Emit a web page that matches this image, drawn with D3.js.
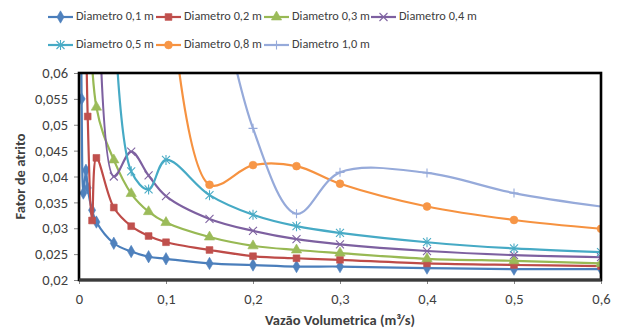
<!DOCTYPE html>
<html>
<head>
<meta charset="utf-8">
<script src="https://cdn.jsdelivr.net/npm/d3@7/dist/d3.min.js"></script>
<style>
  body { margin: 0; background: #fff; }
  svg text { font-family: Carlito, "Liberation Sans Narrow", "Liberation Sans", Arial, sans-serif; fill: #404040; }
</style>
</head>
<body>
<svg id="chart" width="619" height="331"></svg>
<script>
// values (vazao in m3/s, fator de atrito)
const seriesNames = ["Diametro 0,1 m", "Diametro 0,2 m", "Diametro 0,3 m", "Diametro 0,4 m",
  "Diametro 0,5 m", "Diametro 0,8 m", "Diametro 1,0 m"];

const vazaoD01 = [0.002, 0.003, 0.005, 0.008, 0.01, 0.015, 0.02, 0.04, 0.06, 0.08, 0.1, 0.15, 0.2, 0.25, 0.3, 0.4, 0.5, 0.6];
const fatorD01 = [0.080, 0.0550, 0.0368, 0.0412, 0.0378, 0.0335, 0.0312, 0.0271, 0.0255, 0.0245, 0.0241, 0.0232, 0.0229, 0.0226, 0.0226, 0.0223, 0.0221, 0.0221];

const vazaoD02 = [0.005, 0.01, 0.015, 0.02, 0.04, 0.06, 0.08, 0.1, 0.15, 0.2, 0.25, 0.3, 0.4, 0.5, 0.6];
const fatorD02 = [0.12, 0.0516, 0.0315, 0.0436, 0.0340, 0.0304, 0.0285, 0.0273, 0.0258, 0.0246, 0.0242, 0.0239, 0.0232, 0.0229, 0.0227];

const vazaoD03 = [0.01, 0.02, 0.04, 0.06, 0.08, 0.1, 0.15, 0.2, 0.25, 0.3, 0.4, 0.5, 0.6];
const fatorD03 = [0.095, 0.0534, 0.0432, 0.0367, 0.0332, 0.0311, 0.0283, 0.0266, 0.0258, 0.0252, 0.0241, 0.0237, 0.0232];

const vazaoD04 = [0.02, 0.04, 0.06, 0.08, 0.1, 0.15, 0.2, 0.25, 0.3, 0.4, 0.5, 0.6];
const fatorD04 = [0.11, 0.0400, 0.0448, 0.0402, 0.0362, 0.0318, 0.0295, 0.0279, 0.0269, 0.0256, 0.0248, 0.0244];

const vazaoD05 = [0.04, 0.06, 0.08, 0.1, 0.15, 0.2, 0.25, 0.3, 0.4, 0.5, 0.6];
const fatorD05 = [0.075, 0.0410, 0.0375, 0.0432, 0.0364, 0.0326, 0.0304, 0.0291, 0.0273, 0.0261, 0.0254];

const vazaoD08 = [0.1, 0.15, 0.2, 0.25, 0.3, 0.4, 0.5, 0.6];
const fatorD08 = [0.085, 0.0384, 0.0422, 0.0420, 0.0386, 0.0342, 0.0316, 0.0299];

const vazaoD10 = [0.15, 0.2, 0.25, 0.3, 0.4, 0.5, 0.6];
const fatorD10 = [0.085, 0.0493, 0.0328, 0.0408, 0.0407, 0.0368, 0.0342];

const xTicks = [0, 0.1, 0.2, 0.3, 0.4, 0.5, 0.6];
const xTickLabels = ["0", "0,1", "0,2", "0,3", "0,4", "0,5", "0,6"];
const yTicks = [0.02, 0.025, 0.03, 0.035, 0.04, 0.045, 0.05, 0.055, 0.06];
const yTickLabels = ["0,02", "0,025", "0,03", "0,035", "0,04", "0,045", "0,05", "0,055", "0,06"];

const lineColors = ["#4A7EBB", "#BE4B48", "#98B954", "#7D60A0", "#46AAC5", "#F69240", "#96AADA"];
const markColors = ["#4F81BD", "#C0504D", "#9BBB59", "#8064A2", "#4BACC6", "#F79646", "#96AADA"];
const markTypes = ["diamond", "square", "triangle", "x", "star", "circle", "plus"];

const allX = [vazaoD01, vazaoD02, vazaoD03, vazaoD04, vazaoD05, vazaoD08, vazaoD10];
const allY = [fatorD01, fatorD02, fatorD03, fatorD04, fatorD05, fatorD08, fatorD10];
const series = seriesNames.map((name, i) => ({
  name: name,
  color: lineColors[i],
  mcolor: markColors[i],
  mark: markTypes[i],
  points: allX[i].map((v, j) => ({ x: v, y: allY[i][j] }))
}));

const svg = d3.select("#chart");
const margin = { top: 73, right: 18, bottom: 51, left: 79 };
const width = 619 - margin.left - margin.right;
const height = 331 - margin.top - margin.bottom;
const fs = "14.5px";

const x = d3.scaleLinear().domain([0, 0.6]).range([margin.left, margin.left + width]);
const y = d3.scaleLinear().domain([0.02, 0.06]).range([margin.top + height, margin.top]);

svg.append("defs").append("clipPath").attr("id", "plotclip")
  .append("rect")
  .attr("x", margin.left).attr("y", margin.top)
  .attr("width", width).attr("height", height);

// axes
const yAxis = svg.append("g")
  .attr("transform", "translate(" + margin.left + ",0)")
  .call(d3.axisLeft(y).tickValues(yTicks).tickFormat((d, i) => yTickLabels[i]).tickSize(5).tickPadding(6));
const xAxis = svg.append("g")
  .attr("transform", "translate(0," + (margin.top + height) + ")")
  .call(d3.axisBottom(x).tickValues(xTicks).tickFormat((d, i) => xTickLabels[i]).tickSize(4).tickPadding(10));
[yAxis, xAxis].forEach(g => {
  g.select(".domain").remove();
  g.selectAll("line").attr("stroke", "#868686");
  g.selectAll("text").style("font-size", fs).attr("fill", "#404040");
});

// marker shapes
function markerPath(type) {
  if (type === "diamond") return d3.symbol(d3.symbolDiamond, 44)();
  if (type === "square") return d3.symbol(d3.symbolSquare, 46)();
  if (type === "triangle") return d3.symbol(d3.symbolTriangle, 46)();
  if (type === "circle") return d3.symbol(d3.symbolCircle, 48)();
  const r = 4;
  if (type === "x") return `M${-r},${-r}L${r},${r}M${-r},${r}L${r},${-r}`;
  if (type === "plus") return `M${-r - 0.5},0L${r + 0.5},0M0,${-r - 0.5}L0,${r + 0.5}`;
  // star: x with vertical bar
  return `M${-r},${-r}L${r},${r}M${-r},${r}L${r},${-r}M0,${-r - 1}L0,${r + 1}`;
}
function styleMarker(sel, s) {
  if (["x", "plus", "star"].includes(s.mark)) {
    sel.attr("fill", "none").attr("stroke", s.mcolor).attr("stroke-width", 1.1);
  } else {
    sel.attr("fill", s.mcolor).attr("stroke", s.mcolor).attr("stroke-width", 0.6);
  }
}

const line = d3.line()
  .x(d => x(d.x))
  .y(d => y(d.y))
  .curve(d3.curveCatmullRom.alpha(0.5));

const plot = svg.append("g").attr("clip-path", "url(#plotclip)");
series.forEach(s => {
  const g = plot.append("g");
  g.append("path")
    .datum(s.points)
    .attr("fill", "none")
    .attr("stroke", s.color)
    .attr("stroke-width", 2.2)
    .attr("stroke-linejoin", "round")
    .attr("d", line);
  g.selectAll("path.mk")
    .data(s.points)
    .join("path")
    .attr("class", "mk")
    .attr("transform", d => "translate(" + x(d.x) + "," + y(d.y) + ")")
    .attr("d", markerPath(s.mark))
    .call(styleMarker, s);
});

// plot border
svg.append("rect")
  .attr("x", margin.left).attr("y", margin.top)
  .attr("width", width).attr("height", height)
  .attr("fill", "none").attr("stroke", "#000").attr("stroke-width", 2.6);
svg.append("line")
  .attr("x1", margin.left).attr("x2", margin.left + width)
  .attr("y1", margin.top + height).attr("y2", margin.top + height)
  .attr("stroke", "#3a3a3a").attr("stroke-width", 2.8);

// axis titles
svg.append("text")
  .attr("transform", "translate(21," + (margin.top + height / 2) + ") rotate(-90)")
  .attr("text-anchor", "middle")
  .attr("dominant-baseline", "middle")
  .style("font-size", fs).style("font-weight", "bold").attr("fill", "#000")
  .text("Fator de atrito");
svg.append("text")
  .attr("x", 340).attr("y", 321)
  .attr("text-anchor", "middle")
  .attr("dominant-baseline", "middle")
  .style("font-size", fs).style("font-weight", "bold").attr("fill", "#000")
  .text("Vazão Volumetrica (m³/s)");

// legend
const legendPos = [[48, 17], [156, 17], [264, 17], [371, 17], [48, 45], [156, 45], [264, 45]];
const legend = svg.append("g");
series.forEach((s, i) => {
  const [lx, ly] = legendPos[i];
  const g = legend.append("g").attr("transform", "translate(" + lx + "," + ly + ")");
  g.append("line").attr("x1", 0).attr("x2", 25).attr("y1", 0).attr("y2", 0)
    .attr("stroke", s.color).attr("stroke-width", 2.2);
  g.append("path").attr("transform", "translate(12.5,0)").attr("d", markerPath(s.mark)).call(styleMarker, s);
  g.append("text").attr("x", 28).attr("y", 0).attr("dominant-baseline", "middle")
    .style("font-size", "12.3px").text(s.name);
});
</script>
</body>
</html>
